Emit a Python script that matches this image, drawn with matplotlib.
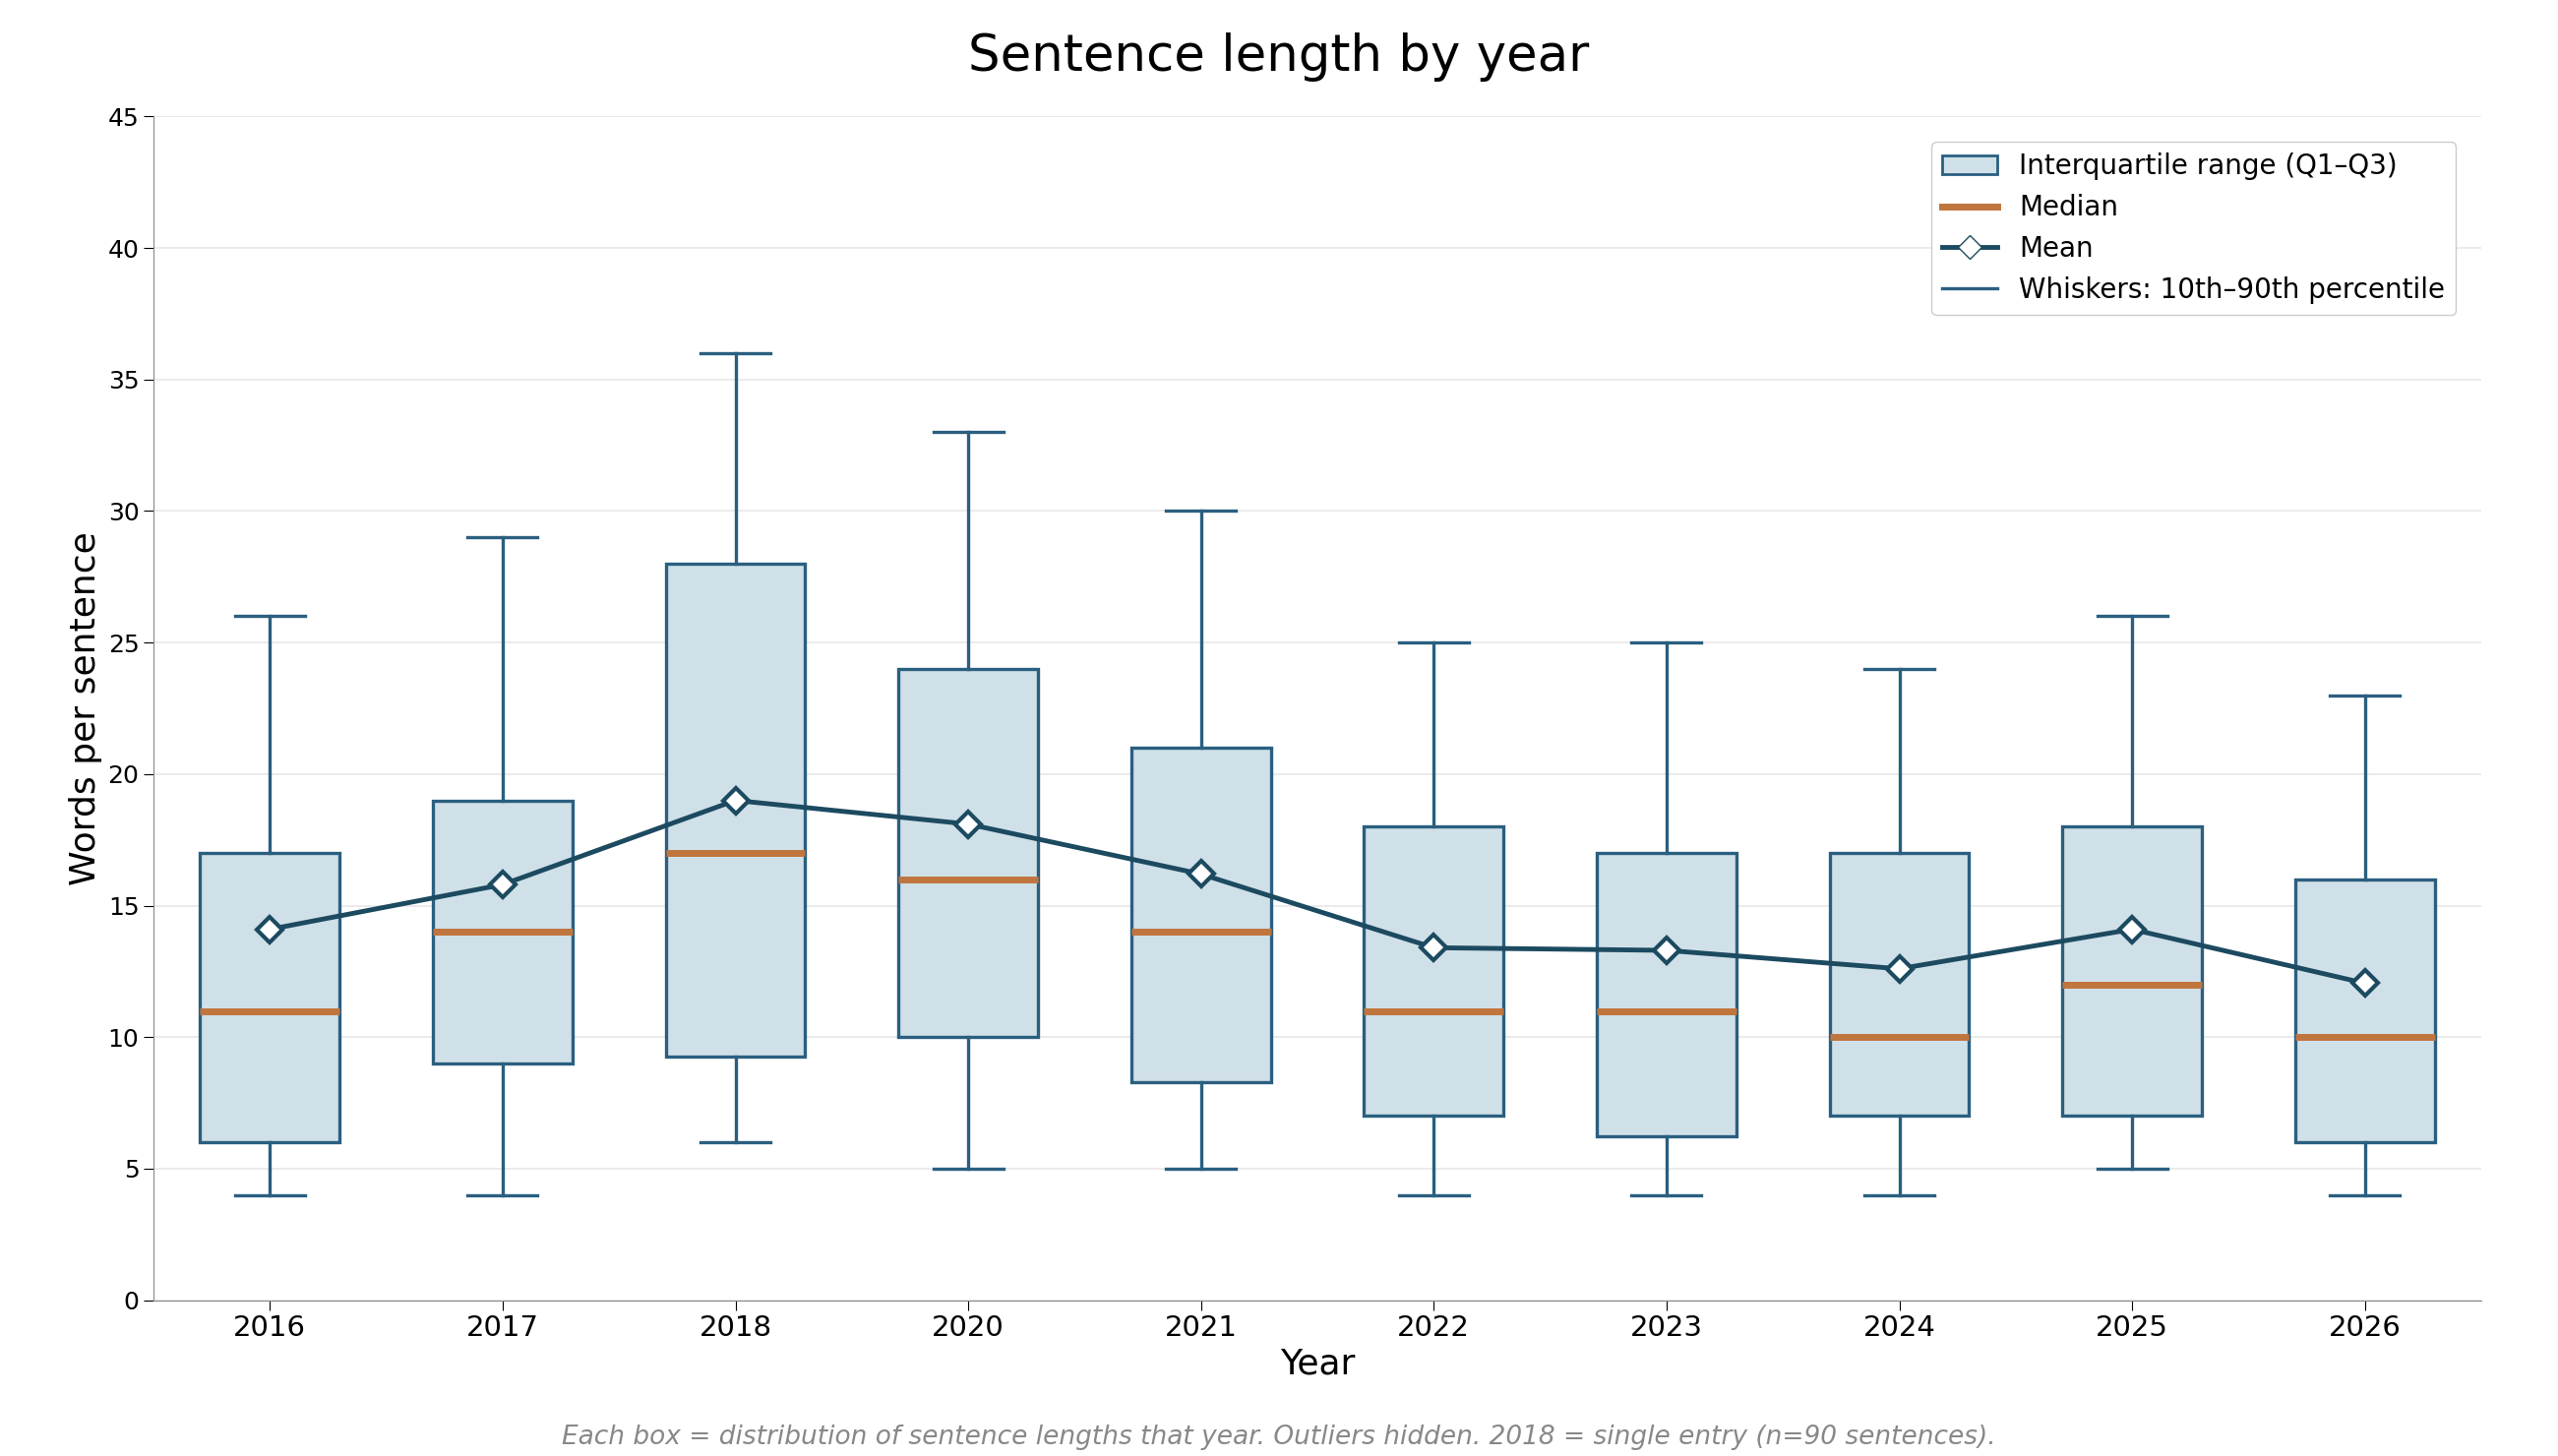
import matplotlib
matplotlib.use("Agg")
import matplotlib.pyplot as plt
from matplotlib.patches import Patch
from matplotlib.lines import Line2D

years = ["2016","2017","2018","2020","2021","2022","2023","2024","2025","2026"]
whislo = [4,4,6,5,5,4,4,4,5,4]
whishi = [26,29,36,33,30,25,25,24,26,23]
q1 = [6,9,9.25,10,8.3,7,6.25,7,7,6]
q3 = [17,19,28,24,21,18,17,17,18,16]
med = [11,14,17,16,14,11,11,10,12,10]
mean = [14.1,15.8,19.0,18.1,16.2,13.4,13.3,12.6,14.1,12.05]

edge = "#2a5f80"; face = "#d0e0e8"; medc = "#c0753e"; meanc = "#1c4a60"

fig = plt.figure(figsize=(26,14.8), dpi=100)
ax = fig.add_axes([0.06,0.107,0.91,0.813])
stats = [dict(whislo=a,q1=b,med=c,q3=d,whishi=e,fliers=[],label=y)
         for a,b,c,d,e,y in zip(whislo,q1,med,q3,whishi,years)]
pos = list(range(len(years)))
ax.bxp(stats, positions=pos, widths=0.6, patch_artist=True, showfliers=False,
       boxprops=dict(facecolor=face, edgecolor=edge, linewidth=2.4),
       medianprops=dict(color=medc, linewidth=5),
       whiskerprops=dict(color=edge, linewidth=2.4),
       capprops=dict(color=edge, linewidth=2.4), capwidths=0.3)
ax.plot(pos, mean, color=meanc, lw=3.5, marker="D", ms=13, mfc="white", mec=meanc, mew=3, zorder=5)
ax.set_ylim(0,45); ax.set_xlim(-0.5,len(years)-0.5)
ax.set_yticks(range(0,46,5))
ax.set_xticks(pos); ax.set_xticklabels(years)
ax.tick_params(labelsize=18, length=7)
ax.tick_params(axis="x", labelsize=21)
ax.yaxis.grid(True, color="#ebebeb", lw=1.4); ax.set_axisbelow(True)
for s in ["top","right"]: ax.spines[s].set_visible(False)
for s in ["left","bottom"]: ax.spines[s].set_color("#888888")
ax.set_xlabel("Year", fontsize=26)
ax.set_ylabel("Words per sentence", fontsize=26)
fig.suptitle("Sentence length by year", fontsize=37, y=0.978)
handles = [Patch(facecolor=face, edgecolor=edge, lw=2, label="Interquartile range (Q1–Q3)"),
           Line2D([],[],color=medc,lw=5,label="Median"),
           Line2D([],[],color=meanc,lw=3.5,marker="D",ms=12,mfc="white",mec=meanc,label="Mean"),
           Line2D([],[],color=edge,lw=2.4,label="Whiskers: 10th–90th percentile")]
ax.legend(handles=handles, loc="upper right", fontsize=20, framealpha=1, edgecolor="#cccccc",
          bbox_to_anchor=(0.995,0.99))
fig.text(0.5,0.008,"Each box = distribution of sentence lengths that year. Outliers hidden. 2018 = single entry (n=90 sentences).",
         ha="center", fontsize=19, style="italic", color="#888888")
fig.savefig("out.png")
